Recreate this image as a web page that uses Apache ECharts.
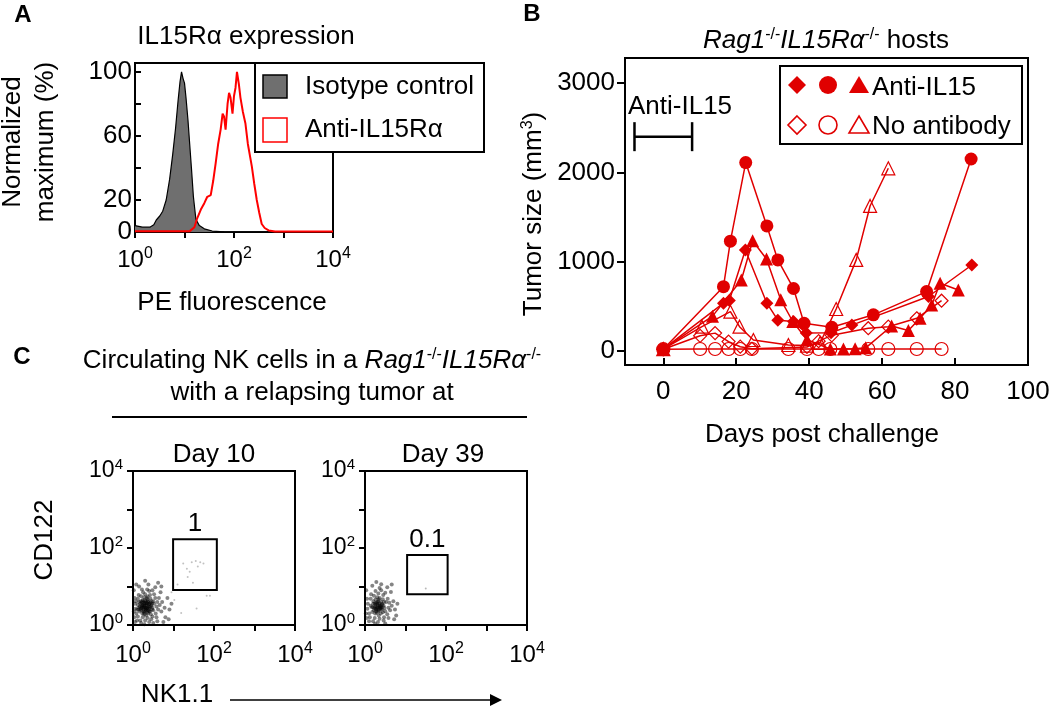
<!DOCTYPE html>
<html><head><meta charset="utf-8">
<script src="https://cdn.jsdelivr.net/npm/echarts@6/dist/echarts.min.js"></script>
<style>html,body{margin:0;padding:0;background:#fff}#c{width:1050px;height:707px}</style>
</head><body><div id="c"></div>
<script>
const FONT = '"Liberation Sans", Arial, sans-serif';
const RED = '#e00000';
const FS = 26;

// ---------- Panel A: IL15Rα histogram (x = log10 PE fluorescence, y = % of max) ----------
const isotypeLogFluor = [0, 0.15, 0.3, 0.38, 0.43, 0.5, 0.56, 0.63, 0.7, 0.76, 0.82, 0.87, 0.91, 0.94, 0.97, 1.0, 1.03, 1.07, 1.1, 1.14, 1.18, 1.23, 1.3, 1.4, 1.56, 1.8, 4];
const isotypePct      = [4, 3, 3, 4.5, 7.5, 10, 13, 20, 33, 48, 65, 82, 94, 100, 96, 93, 84, 70, 57, 40, 22, 8, 4, 2, 0.6, 0.1, 0];
const antiLogFluor = [0, 1.1, 1.2, 1.25, 1.33, 1.4, 1.46, 1.53, 1.58, 1.63, 1.68, 1.73, 1.77, 1.8, 1.83, 1.87, 1.9, 1.93, 1.97, 2.0, 2.03, 2.06, 2.1, 2.13, 2.18, 2.23, 2.28, 2.36, 2.41, 2.46, 2.51, 2.56, 2.62, 2.7, 2.83, 4];
const antiPct      = [0.4, 0.4, 3, 8, 14, 18, 22, 23, 32, 43, 55, 64, 74, 72, 64, 80, 87, 84, 74, 85, 90, 100, 92, 84, 75, 68, 55, 41, 30, 20, 12, 5, 2.5, 1, 0.3, 0.3];
const histYTicks = [0, 20, 40, 60, 80, 100];
const histYLabels = [0, 20, 60, 100];
const decadeTicks = [0, 1, 2, 3, 4];
const decadeLabels = [0, 2, 4];

// ---------- Panel B: tumor growth (days, mm^3) ----------
const antiDiamondDays = [0, 16.5, 18.1, 22.5, 28.4, 31.4, 35.7, 39.2, 46, 51.7, 72.7, 84.6];
const antiDiamondSize = [20, 535, 565, 1130, 535, 345, 330, 200, 205, 290, 610, 963];
const antiCircleDays = [0, 16.5, 18.4, 22.6, 28.4, 31.4, 35.7, 38.6, 46.2, 57.6, 72.2, 84.4];
const antiCircleSize = [20, 720, 1230, 2110, 1400, 1020, 700, 310, 265, 405, 665, 2150];
const antiTriangleDays = [0, 13.5, 21.4, 24.5, 28.3, 32.2, 35.5, 39.4, 45.8, 49.4, 52.6, 55.5, 62.6, 67.2, 70.4, 73.6, 75.9, 80.9];
const antiTriangleSize = [20, 390, 795, 1235, 1030, 575, 330, 125, 22, 22, 25, 35, 280, 230, 366, 515, 758, 683];
const noAbDiamondDays = [0, 10.1, 14.2, 17.9, 21.1, 24.3, 39.4, 42.6, 46.2, 56.2, 61.7, 69.5, 76.3];
const noAbDiamondSize = [20, 170, 200, 105, 48, 25, 45, 110, 175, 255, 272, 366, 563];
const noAbCircleDays = [0, 10.1, 14.2, 17.9, 21.1, 24.3, 34.3, 39.4, 42.6, 45.8, 56.2, 61.7, 69.5, 76.3];
const noAbCircleSize = [20, 22, 22, 22, 22, 22, 22, 22, 22, 22, 22, 22, 22, 22];
const noAbTriangleDays = [0, 10.6, 18.4, 20.9, 24.7, 34.3, 39.4, 43, 47.4, 52.9, 56.7, 61.7];
const noAbTriangleSize = [20, 272, 440, 272, 123, 67, 60, 90, 470, 1020, 1624, 2046];
const antiIL15Window = [-7.9, 7.9];
const antiIL15BarLevel = 2400;
const dayTicks = [0, 20, 40, 60, 80];
const dayLabels = [0, 20, 40, 60, 80, 100];
const sizeTicks = [0, 1000, 2000, 3000];

// ---------- Panel C: flow plots (log10 NK1.1, log10 CD122) ----------
const day10Cells = [
[0.30,0.45],[0.35,0.50],[0.28,0.55],[0.40,0.42],[0.22,0.48],[0.33,0.38],[0.38,0.60],[0.25,0.40],[0.45,0.52],[0.18,0.55],
[0.31,0.62],[0.42,0.35],[0.27,0.32],[0.36,0.44],[0.20,0.38],[0.48,0.45],[0.15,0.45],[0.34,0.70],[0.24,0.65],[0.41,0.55],
[0.29,0.50],[0.37,0.30],[0.19,0.62],[0.46,0.62],[0.26,0.58],[0.32,0.25],[0.12,0.52],[0.39,0.48],[0.23,0.30],[0.43,0.68],
[0.16,0.35],[0.50,0.38],[0.28,0.72],[0.35,0.56],[0.21,0.44],[0.44,0.28],[0.10,0.40],[0.52,0.55],[0.30,0.35],[0.27,0.46],
[0.33,0.52],[0.38,0.38],[0.24,0.52],[0.41,0.46],[0.17,0.48],[0.36,0.66],[0.30,0.58],[0.47,0.40],[0.22,0.58],[0.34,0.42],
[0.08,0.30],[0.05,0.55],[0.12,0.68],[0.20,0.75],[0.30,0.80],[0.42,0.78],[0.55,0.70],[0.58,0.48],[0.56,0.30],[0.48,0.22],
[0.36,0.18],[0.24,0.20],[0.12,0.22],[0.06,0.42],[0.15,0.60],[0.50,0.62],[0.60,0.60],[0.62,0.40],[0.40,0.88],[0.25,0.85],
[0.14,0.78],[0.04,0.70],[0.03,0.20],[0.18,0.12],[0.30,0.12],[0.45,0.15],[0.58,0.20],[0.66,0.52],[0.52,0.80],[0.35,0.92],
[0.10,0.12],[0.07,0.62],[0.22,0.92],[0.48,0.90],[0.64,0.70],[0.70,0.35],[0.40,0.08],[0.20,0.05],[0.05,0.08],[0.60,0.10],
[0.72,0.60],[0.78,0.45],[0.68,0.85],[0.55,0.98],[0.38,1.05],[0.15,1.00],[0.02,0.90],[0.80,0.20],[0.75,0.08],[0.85,0.70],
[0.90,0.40],[0.62,1.10],[0.30,1.15],[0.08,1.05],[0.95,0.55],[0.70,1.00],[0.88,0.15],[0.50,0.05],[0.28,0.02],[0.02,0.35],
[0.26,0.36],[0.32,0.44],[0.39,0.54],[0.21,0.52],[0.44,0.48],[0.29,0.64],[0.35,0.33],[0.25,0.45],[0.37,0.62],[0.31,0.40],
[0.43,0.58],[0.19,0.42],[0.28,0.28],[0.40,0.36],[0.33,0.57],[0.23,0.62],[0.47,0.55],[0.14,0.40],[0.36,0.74],[0.27,0.50]
];
const day10Sparse = [[1.24,1.60],[1.45,1.63],[1.55,1.66],[1.66,1.63],[1.74,1.60],[1.33,1.46],[1.40,1.38],[1.82,0.76],[1.90,0.76],[1.57,0.43],[1.19,0.31],[1.60,1.52],[1.35,1.25],[1.48,1.10],[1.10,1.05],[0.95,0.85],[1.02,0.65]];
const day39Cells = [
[0.32,0.45],[0.38,0.50],[0.30,0.55],[0.42,0.40],[0.25,0.48],[0.35,0.38],[0.40,0.60],[0.27,0.40],[0.46,0.50],[0.20,0.55],
[0.33,0.62],[0.44,0.33],[0.29,0.32],[0.37,0.45],[0.22,0.38],[0.48,0.44],[0.17,0.46],[0.36,0.70],[0.26,0.66],[0.42,0.55],
[0.31,0.50],[0.39,0.30],[0.21,0.62],[0.47,0.60],[0.28,0.58],[0.34,0.25],[0.14,0.50],[0.40,0.47],[0.25,0.30],[0.44,0.67],
[0.18,0.34],[0.50,0.36],[0.30,0.72],[0.36,0.56],[0.23,0.44],[0.32,0.40],[0.29,0.46],[0.35,0.52],[0.26,0.53],[0.41,0.44],
[0.10,0.30],[0.07,0.55],[0.14,0.68],[0.22,0.76],[0.33,0.82],[0.45,0.78],[0.56,0.68],[0.58,0.45],[0.55,0.28],[0.47,0.20],
[0.36,0.16],[0.24,0.18],[0.12,0.20],[0.06,0.42],[0.52,0.60],[0.60,0.58],[0.62,0.38],[0.40,0.90],[0.26,0.88],[0.15,0.80],
[0.05,0.68],[0.04,0.18],[0.20,0.10],[0.32,0.08],[0.46,0.12],[0.58,0.18],[0.66,0.50],[0.50,0.84],[0.36,0.96],[0.10,0.10],
[0.70,0.62],[0.74,0.40],[0.64,0.86],[0.55,0.98],[0.40,1.06],[0.18,1.02],[0.03,0.90],[0.72,0.15],[0.80,0.55],[0.66,1.05],
[0.28,1.12],[0.77,0.25],[0.50,0.04],[0.25,0.03],[0.02,0.30],
[0.28,0.42],[0.36,0.48],[0.33,0.35],[0.24,0.56],[0.43,0.52],[0.31,0.60],[0.38,0.42],[0.20,0.46],[0.27,0.36],[0.34,0.66]
];
const day39Sparse = [[1.50,0.95]];
const day10Gate = [0.99, 2.07, 0.91, 2.23]; // xMin, xMax, yMin, yMax (decades)
const day39Gate = [1.04, 2.04, 0.80, 1.82];
const gateLabels = ['1', '0.1'];

// ---------- helpers ----------
const pairs = (xs, ys) => xs.map((x, i) => [x, ys[i]]);
const supRich = (big, small) => ({
  b: { fontSize: big, fontFamily: FONT, color: '#000', lineHeight: big },
  s: { fontSize: small, fontFamily: FONT, color: '#000', lineHeight: small, padding: [0, 0, Math.round(big * 0.5), 0] }
});
const decFormatter = v => '{b|10}{s|' + v + '}';

function axisBase(gridIndex, o) {
  return Object.assign({
    gridIndex, type: 'value',
    axisLine: { show: true, onZero: false, lineStyle: { color: '#000', width: 2 } },
    splitLine: { show: false },
  }, o);
}

const textRich = {
  n: { fontSize: FS, fontFamily: FONT, fill: '#000', color: '#000' },
  i: { fontSize: FS, fontFamily: FONT, fontStyle: 'italic', fill: '#000', color: '#000' },
  s: { fontSize: 16, fontFamily: FONT, fill: '#000', color: '#000', padding: [0, 0, 12, 0] }
};
function txt(x, y, text, extra) {
  const base = { text, font: FS + 'px ' + FONT, fontSize: FS, fontFamily: FONT, fill: '#000',
    textAlign: 'center', align: 'center', textVerticalAlign: 'middle', verticalAlign: 'middle', rich: textRich };
  const e = Object.assign({ type: 'text', x, y, z: 100 }, extra || {});
  e.style = Object.assign(base, (extra && extra.style) || {}, { text });
  return e;
}

const grids = [
  { left: 135, top: 63, width: 198, height: 169 },
  { left: 625, top: 58, width: 403, height: 307 },
  { left: 133, top: 471, width: 162, height: 154 },
  { left: 365, top: 471, width: 162, height: 154 }
].map(g => Object.assign({ show: true, borderColor: '#000', borderWidth: 2, backgroundColor: 'transparent', containLabel: false, outerBoundsMode: 'none' }, g));

const decXAxis = (gi, margin) => axisBase(gi, {
  min: 0, max: 4,
  axisTick: { show: true, inside: false, length: 6, customValues: decadeTicks, lineStyle: { color: '#000', width: 2 } },
  axisLabel: { customValues: decadeLabels, formatter: decFormatter, rich: supRich(FS - 2, 16), margin, color: '#000' }
});

const plainNum = v => String(v);
const xAxes = [
  decXAxis(0, 16),
  axisBase(1, {
    min: -10.5, max: 100,
    axisTick: { show: true, inside: true, length: 7, customValues: dayTicks, lineStyle: { color: '#000', width: 2 } },
    axisLabel: { customValues: dayLabels, formatter: plainNum, fontSize: FS, fontFamily: FONT, color: '#000', margin: 14 }
  }),
  decXAxis(2, 18),
  decXAxis(3, 18)
];
const decYAxis = gi => axisBase(gi, {
  min: 0, max: 4,
  axisTick: { show: true, inside: false, length: 6, customValues: decadeTicks, lineStyle: { color: '#000', width: 2 } },
  axisLabel: { customValues: decadeLabels, formatter: decFormatter, rich: supRich(FS - 3, 15), margin: 10, color: '#000' }
});
const yAxes = [
  axisBase(0, {
    min: 0, max: 105.6,
    axisTick: { show: true, inside: true, length: 6, customValues: histYTicks, lineStyle: { color: '#000', width: 2 } },
    axisLabel: { customValues: histYLabels, formatter: plainNum, fontSize: FS, fontFamily: FONT, color: '#000', margin: 3 }
  }),
  axisBase(1, {
    min: -157, max: 3281,
    axisTick: { show: true, inside: false, length: 8, customValues: sizeTicks, lineStyle: { color: '#000', width: 2 } },
    axisLabel: { customValues: sizeTicks, formatter: plainNum, fontSize: FS, fontFamily: FONT, color: '#000', margin: 10 }
  }),
  decYAxis(2),
  decYAxis(3)
];

function tumorSeries(days, sizes, symbol, filled, size) {
  return {
    type: 'line', xAxisIndex: 1, yAxisIndex: 1, data: pairs(days, sizes),
    symbol, symbolSize: size, showSymbol: true, z: filled ? 5 : 4,
    lineStyle: { color: RED, width: 1.5 },
    itemStyle: filled ? { color: RED, borderColor: RED, borderWidth: 0 }
                      : { color: 'rgba(255,255,255,0)', borderColor: RED, borderWidth: 1.2 },
    emphasis: { disabled: true }
  };
}
function gateArea(g, label) {
  return {
    silent: true,
    itemStyle: { color: 'rgba(0,0,0,0)', borderColor: '#000', borderWidth: 2 },
    label: { show: true, position: 'top', formatter: label, fontSize: FS, fontFamily: FONT, color: '#000', distance: 1 },
    data: [[{ coord: [g[0], g[3]] }, { coord: [g[1], g[2]] }]]
  };
}
function cellSeries(gi, data, color, size, extra) {
  return Object.assign({
    type: 'scatter', xAxisIndex: gi, yAxisIndex: gi, data, symbolSize: size,
    itemStyle: { color }, silent: true
  }, extra || {});
}

const series = [
  { type: 'line', xAxisIndex: 0, yAxisIndex: 0, data: pairs(isotypeLogFluor, isotypePct), showSymbol: false,
    lineStyle: { color: '#000', width: 1.2 }, areaStyle: { color: '#6f6f6f', opacity: 1 }, z: 2 },
  { type: 'line', xAxisIndex: 0, yAxisIndex: 0, data: pairs(antiLogFluor, antiPct), showSymbol: false,
    lineStyle: { color: '#ff0000', width: 2 }, z: 3 },

  tumorSeries(noAbCircleDays, noAbCircleSize, 'circle', false, 13),
  tumorSeries(noAbDiamondDays, noAbDiamondSize, 'diamond', false, 13),
  tumorSeries(noAbTriangleDays, noAbTriangleSize, 'triangle', false, 13),
  tumorSeries(antiDiamondDays, antiDiamondSize, 'diamond', true, 13),
  tumorSeries(antiTriangleDays, antiTriangleSize, 'triangle', true, 13),
  tumorSeries(antiCircleDays, antiCircleSize, 'circle', true, 13),
  { type: 'line', xAxisIndex: 1, yAxisIndex: 1, data: antiIL15Window.map(d => [d, antiIL15BarLevel]),
    symbol: 'rect', symbolSize: [2.5, 29], itemStyle: { color: '#000' }, lineStyle: { color: '#000', width: 2.5 } },

  cellSeries(2, day10Cells, 'rgba(0,0,0,0.6)', 4, { markArea: gateArea(day10Gate, gateLabels[0]) }),
  cellSeries(2, day10Sparse, 'rgba(0,0,0,0.3)', 2),
  cellSeries(3, day39Cells, 'rgba(0,0,0,0.6)', 4, { markArea: gateArea(day39Gate, gateLabels[1]) }),
  cellSeries(3, day39Sparse, 'rgba(0,0,0,0.35)', 2)
];

const bold = (x, y, t) => txt(x, y, t, { style: { font: 'bold 24px ' + FONT, fontSize: 24, fontWeight: 'bold' } });
const graphic = [
  bold(23, 15, 'A'), bold(532, 14, 'B'), bold(22, 357, 'C'),
  // Panel A
  txt(246, 37, '{n|IL15Rα expression}'),
  txt(29, 142, 'Normalized\nmaximum (%)', { rotation: Math.PI / 2, style: { lineHeight: 33 } }),
  txt(232, 303, 'PE fluorescence'),
  { type: 'rect', z: 90, shape: { x: 255, y: 63, width: 229, height: 89 }, style: { fill: '#fff', stroke: '#000', lineWidth: 2 } },
  { type: 'rect', z: 95, shape: { x: 263, y: 75, width: 24, height: 23 }, style: { fill: '#6f6f6f', stroke: '#000', lineWidth: 1.5 } },
  { type: 'rect', z: 95, shape: { x: 263, y: 118, width: 24, height: 24 }, style: { fill: '#fff', stroke: '#ff0000', lineWidth: 1.5 } },
  txt(305, 87, 'Isotype control', { style: { textAlign: 'left', align: 'left' } }),
  txt(305, 130, 'Anti-IL15Rα', { style: { textAlign: 'left', align: 'left' } }),
  // Panel B
  txt(826, 41, '{i|Rag1}{s|-/-}{i|IL15Rα}{s|-/-}{n| hosts}'),
  txt(534, 214, '{n|Tumor size (mm}{s|3}{n|)}', { rotation: Math.PI / 2 }),
  txt(822, 435, 'Days post challenge'),
  txt(628, 107, 'Anti-IL15', { style: { textAlign: 'left', align: 'left' } }),
  { type: 'rect', z: 90, shape: { x: 780, y: 66, width: 242, height: 78 }, style: { fill: '#fff', stroke: '#000', lineWidth: 2 } },
  { type: 'polygon', z: 95, shape: { points: [[797, 76], [806, 85], [797, 94], [788, 85]] }, style: { fill: RED } },
  { type: 'circle', z: 95, shape: { cx: 828, cy: 85, r: 9 }, style: { fill: RED } },
  { type: 'polygon', z: 95, shape: { points: [[859, 76], [869, 93], [849, 93]] }, style: { fill: RED } },
  { type: 'polygon', z: 95, shape: { points: [[797, 116], [806, 125], [797, 134], [788, 125]] }, style: { fill: '#fff', stroke: RED, lineWidth: 1.6 } },
  { type: 'circle', z: 95, shape: { cx: 828, cy: 125, r: 9 }, style: { fill: '#fff', stroke: RED, lineWidth: 1.6 } },
  { type: 'polygon', z: 95, shape: { points: [[859, 116], [869, 133], [849, 133]] }, style: { fill: '#fff', stroke: RED, lineWidth: 1.6 } },
  txt(872, 88, 'Anti-IL15', { style: { textAlign: 'left', align: 'left' } }),
  txt(872, 127, 'No antibody', { style: { textAlign: 'left', align: 'left' } }),
  // Panel C
  txt(312, 361, '{n|Circulating NK cells in a }{i|Rag1}{s|-/-}{i|IL15Rα}{s|-/-}'),
  txt(312, 393, 'with a relapsing tumor at'),
  { type: 'line', z: 95, shape: { x1: 112, y1: 417, x2: 527, y2: 417 }, style: { stroke: '#000', lineWidth: 2 } },
  txt(214, 455, 'Day 10'),
  txt(443, 455, 'Day 39'),
  txt(45, 540, 'CD122', { rotation: Math.PI / 2 }),
  txt(177, 695, 'NK1.1'),
  { type: 'line', z: 95, shape: { x1: 230, y1: 700, x2: 494, y2: 700 }, style: { stroke: '#000', lineWidth: 1.5 } },
  { type: 'polygon', z: 95, shape: { points: [[502, 700], [490, 694], [490, 706]] }, style: { fill: '#000' } }
];

const chart = echarts.init(document.getElementById('c'), null, { renderer: 'canvas', width: 1050, height: 707 });
chart.setOption({
  animation: false,
  backgroundColor: '#fff',
  textStyle: { fontFamily: FONT },
  grid: grids, xAxis: xAxes, yAxis: yAxes, series, graphic
});
</script></body></html>
